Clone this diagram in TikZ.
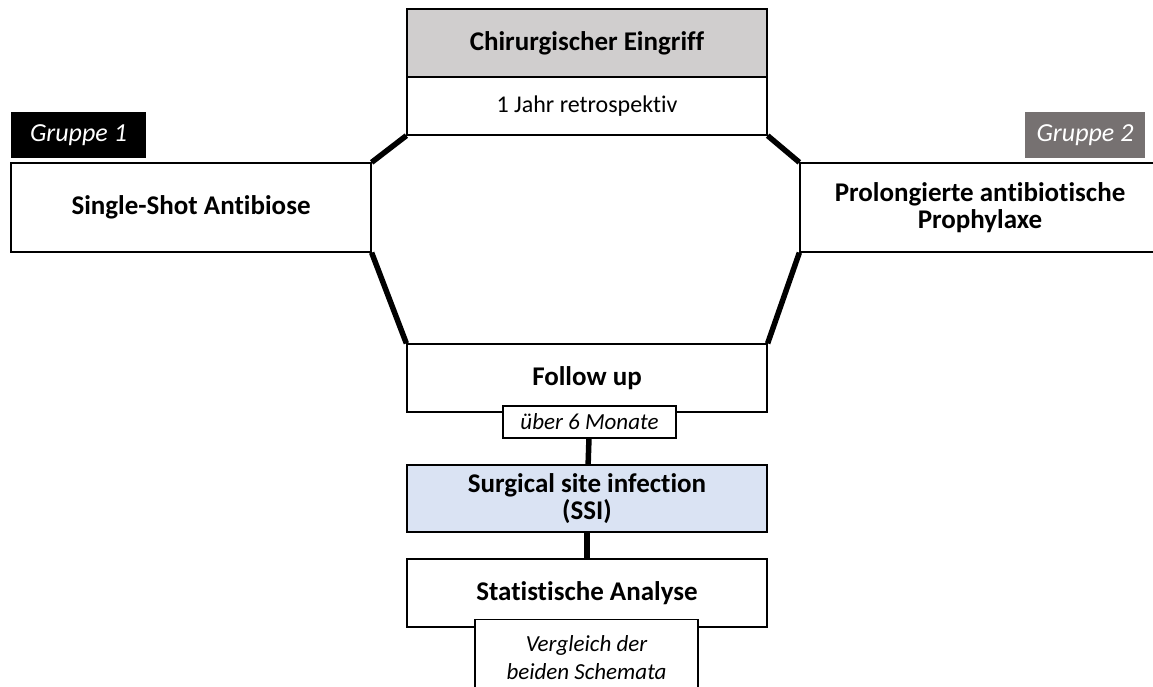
\documentclass[tikz,border=0pt]{standalone}
\usepackage{fontspec}
\setmainfont{Carlito}[Ligatures=NoCommon]
\definecolor{eingriffgrau}{RGB}{208,206,206}
\definecolor{gruppegrau}{RGB}{118,113,113}
\definecolor{ssiblau}{RGB}{218,227,243}

\begin{document}
\begin{tikzpicture}[x=1pt,y=-1pt,
    kasten/.style={draw=black,line width=1.3pt,fill=white,minimum width=360pt,minimum height=68pt,inner sep=2pt,align=center,font=\fontsize{27}{27}\selectfont\bfseries},
    notiz/.style={draw=black,line width=1.3pt,fill=white,inner sep=2pt,align=center,font=\fontsize{23}{28}\selectfont\itshape},
    etikett/.style={minimum height=46pt,inner sep=0pt,text=white,font=\fontsize{26}{30}\selectfont\itshape},
    balken/.style={black,line width=5.5pt}]
    \useasboundingbox (0,0) rectangle (1153,686);

    % oben
    \node[kasten,fill=eingriffgrau] (eingriff) at (587,43) {Chirurgischer Eingriff};
    \node[kasten,minimum height=58pt,font=\fontsize{24}{28}\selectfont] (retro) at (587,106) {1 Jahr retrospektiv};

    % Gruppen
    \node[etikett,fill=black,minimum width=135pt] (gruppeA) at (78.5,135) {Gruppe 1};
    \node[kasten,minimum height=89pt] (single) at (191,207.5) {Single-Shot Antibiose};
    \node[etikett,fill=gruppegrau,minimum width=120pt] (gruppeB) at (1085,135) {Gruppe 2};
    \node[kasten,minimum height=89pt] (prolong) at (980,207.5) {Prolongierte antibiotische\\Prophylaxe};

    % unten
    \node[kasten] (followup) at (587,378) {Follow up};
    \node[notiz,minimum width=173pt,minimum height=32pt] (monate) at (589.5,422) {über 6 Monate};
    \node[kasten,fill=ssiblau,minimum height=67pt] (ssi) at (587,498.5) {Surgical site infection\\(SSI)};
    \node[kasten] (analyse) at (587,593) {Statistische Analyse};
    \node[notiz,anchor=north,minimum width=223pt,minimum height=75pt] (vergleich) at (586.5,619) {Vergleich der\\beiden Schemata};

    \draw[balken] (retro.south west) -- (single.north east);
    \draw[balken] (single.south east) -- (followup.north west);
    \draw[balken] (retro.south east) -- (prolong.north west);
    \draw[balken] (prolong.south west) -- (followup.north east);
    \draw[balken] (monate) -- (ssi);
    \draw[balken] (ssi) -- (analyse);
\end{tikzpicture}
\end{document}
